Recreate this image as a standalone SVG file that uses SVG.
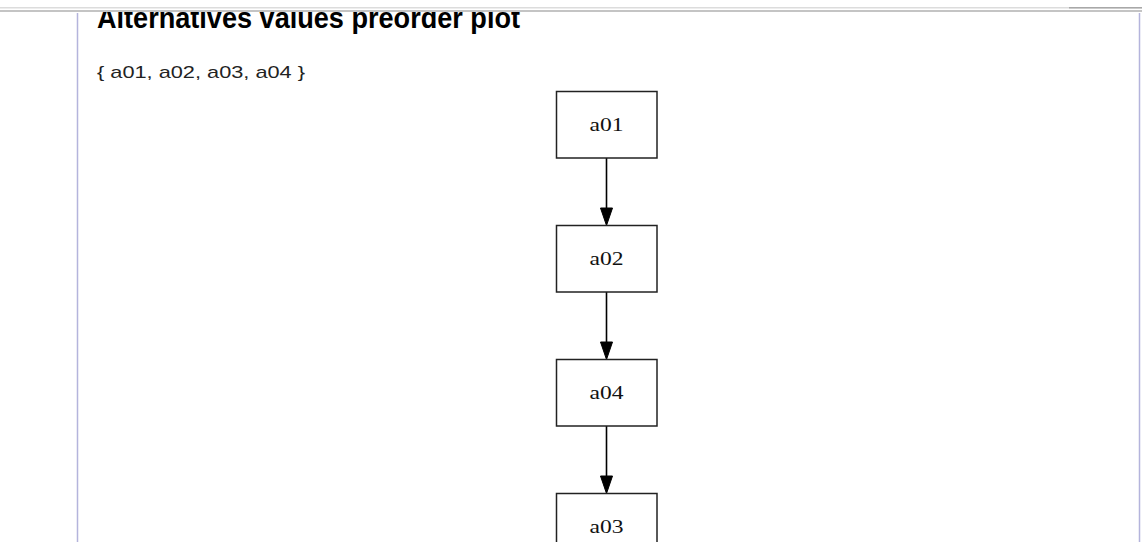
<svg xmlns="http://www.w3.org/2000/svg" width="1142" height="542" viewBox="0 0 1142 542">
  <style>
    .title { font-family: "Liberation Sans", Arial, sans-serif; font-weight: bold; font-size: 30px; fill: #000; }
    .sub { font-family: "Liberation Sans", Arial, sans-serif; font-size: 17px; fill: #222; }
    .node rect { fill: #fff; stroke: #222; stroke-width: 1.5; }
    .node text { font-family: "Liberation Serif", "Times New Roman", serif; font-size: 19px; fill: #111; text-anchor: middle; }
    .edge line { stroke: #000; stroke-width: 1.6; }
    .edge polygon { fill: #000; stroke: #000; stroke-width: 1; }
    .rule { fill: none; stroke: #b4b4dc; stroke-width: 1.5; }
  </style>
  <defs>
    <clipPath id="page">
      <rect x="0" y="12" width="1142" height="530"/>
    </clipPath>
  </defs>

  <rect width="1142" height="542" fill="#fff"/>

  <!-- page heading, clipped by the toolbar edge -->
  <g clip-path="url(#page)">
    <text class="title" x="97" y="27.5" textLength="423" lengthAdjust="spacingAndGlyphs">Alternatives values preorder plot</text>
  </g>
  <text class="sub" x="97" y="78" textLength="208" lengthAdjust="spacingAndGlyphs">{ a01, a02, a03, a04 }</text>

  <!-- toolbar edge lines -->
  <rect x="0" y="7" width="1142" height="1.5" fill="#dcdcdc"/>
  <rect x="1069" y="7" width="73" height="1.5" fill="#a8a8a8"/>
  <rect x="0" y="10" width="1142" height="2" fill="#c4c4c4"/>

  <!-- page margins -->
  <line class="rule" x1="77.5" y1="13" x2="77.5" y2="542"/>
  <line class="rule" x1="1139.5" y1="13" x2="1139.5" y2="542"/>

  <!-- connectors -->
  <g id="edges" class="edge">
    <line x1="606.5" y1="158" x2="606.5" y2="210"/>
    <polygon points="600.5,208 612.5,208 606.5,225.5"/>
    <line x1="606.5" y1="292" x2="606.5" y2="344"/>
    <polygon points="600.5,342 612.5,342 606.5,359.5"/>
    <line x1="606.5" y1="426" x2="606.5" y2="478"/>
    <polygon points="600.5,476 612.5,476 606.5,493.5"/>
  </g>

  <g id="a01" class="node">
    <rect x="556.5" y="91.5" width="100.5" height="66.5"/>
    <text x="606.5" y="131" textLength="34" lengthAdjust="spacingAndGlyphs">a01</text>
  </g>
  <g id="a02" class="node">
    <rect x="556.5" y="225.5" width="100.5" height="66.5"/>
    <text x="606.5" y="265" textLength="34" lengthAdjust="spacingAndGlyphs">a02</text>
  </g>
  <g id="a04" class="node">
    <rect x="556.5" y="359.5" width="100.5" height="66.5"/>
    <text x="606.5" y="399" textLength="34" lengthAdjust="spacingAndGlyphs">a04</text>
  </g>
  <g id="a03" class="node">
    <rect x="556.5" y="493.5" width="100.5" height="66.5"/>
    <text x="606.5" y="533" textLength="34" lengthAdjust="spacingAndGlyphs">a03</text>
  </g>
</svg>
